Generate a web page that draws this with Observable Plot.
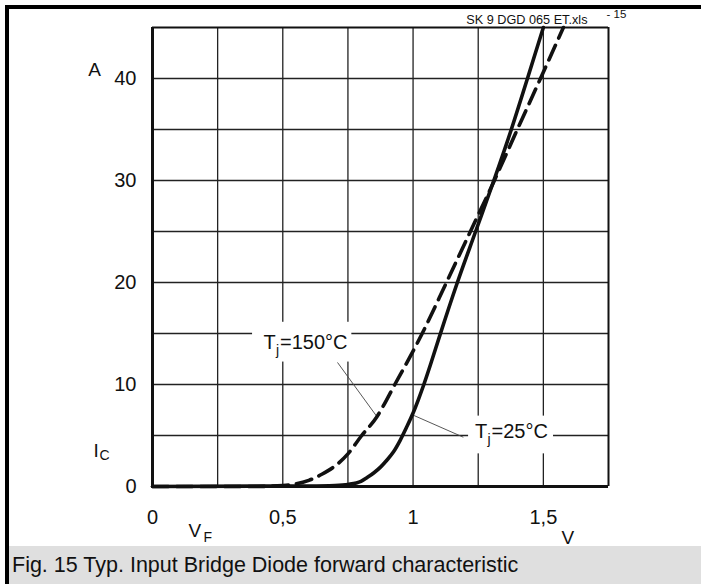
<!DOCTYPE html>
<html><head><meta charset="utf-8">
<script src="https://cdn.jsdelivr.net/npm/d3@7"></script>
<script src="https://cdn.jsdelivr.net/npm/@observablehq/plot@0.6"></script>
<style>
html,body{margin:0;padding:0;overflow:hidden;background:#fff;}
#wrap{position:relative;width:701px;height:584px;font-family:"Liberation Sans",Arial,Helvetica,sans-serif;}
#chart{position:absolute;left:0;top:0;}
#cap{position:absolute;left:9px;top:546px;width:692px;height:38px;line-height:38px;background:#dfdfdf;font-size:21.5px;color:#111;padding-left:3px;box-sizing:border-box;white-space:nowrap;}
.b{position:absolute;background:#000;}
#bl{left:5px;top:5px;width:4px;height:579px;}
#bt{left:5px;top:5px;width:696px;height:4px;}
</style></head>
<body><div id="wrap"><div id="chart"></div><div id="cap">Fig. 15 Typ. Input Bridge Diode forward characteristic</div><div class="b" id="bl"></div><div class="b" id="bt"></div></div>
<script>
// Forward voltage V_F (V) and current I_C (A)
const vSolid  = [0, 0.6, 0.7, 0.75, 0.8, 0.825, 0.85, 0.875, 0.9, 0.925, 0.95, 0.975, 1.0, 1.02, 1.04, 1.07, 1.1, 1.17, 1.24, 1.31, 1.377, 1.439, 1.5];
const iSolid  = [0, 0.05, 0.1, 0.2, 0.5, 0.9, 1.35, 1.9, 2.6, 3.4, 4.5, 5.8, 7.2, 8.5, 9.9, 12.2, 14.6, 20, 25, 30, 35, 40, 45];
const vDashed = [0, 0.4, 0.5, 0.55, 0.6, 0.65, 0.7, 0.75, 0.8, 0.86, 0.93, 1.035, 1.128, 1.22, 1.312, 1.40, 1.489, 1.577];
const iDashed = [0, 0, 0.1, 0.25, 0.6, 1.2, 2.0, 3.2, 4.9, 6.8, 10, 15, 20, 25, 30, 35, 40, 45];

const xGrid = [0.25, 0.5, 0.75, 1.0, 1.25, 1.5];
const yGrid = [5, 10, 15, 20, 25, 30, 35, 40];
const xTicks = [0, 0.5, 1, 1.5];
const xTickLabels = ["0", "0,5", "1", "1,5"];
const yTicks = [0, 10, 20, 30, 40];
const yTickLabels = ["0", "10", "20", "30", "40"];

// curve labels: T_j temperature, anchor (start of "T"), leader line ends, knock-out box
const curveLabels = [
  {temp: "150", x: 0.426, y: 14.07, lx1: 0.71, ly1: 12.16, lx2: 0.861, ly2: 6.86, bx1: 0.384, bx2: 0.765, by1: 12.2, by2: 16.1},
  {temp: "25",  x: 1.2375, y: 5.39, lx1: 1.193, ly1: 4.83, lx2: 1.0, ly2: 7.0, bx1: 1.213, bx2: 1.539, by1: 3.2, by2: 6.9}
];

const solid = vSolid.map((v, i) => ({v, i: iSolid[i]}));
const dashed = vDashed.map((v, i) => ({v, i: iDashed[i]}));
const xT = xTicks.map((v, k) => ({v, t: xTickLabels[k]}));
const yT = yTicks.map((v, k) => ({v, t: yTickLabels[k]}));

const FF = "Liberation Sans, Arial, Helvetica, sans-serif";
const ink = "#111";

const chart = Plot.plot({
  width: 701, height: 546,
  marginLeft: 152, marginRight: 93, marginTop: 27, marginBottom: 60,
  style: {background: "transparent", overflow: "visible", fontFamily: FF},
  x: {domain: [0, 1.75], axis: null},
  y: {domain: [0, 45], axis: null},
  marks: [
    Plot.ruleX(xGrid, {stroke: "#222", strokeWidth: 1.3}),
    Plot.ruleY(yGrid, {stroke: "#222", strokeWidth: 1.3}),
    Plot.rect(curveLabels, {x1: "bx1", x2: "bx2", y1: "by1", y2: "by2", fill: "white"}),
    Plot.link(curveLabels, {x1: "lx1", y1: "ly1", x2: "lx2", y2: "ly2", stroke: "#444", strokeWidth: 0.9}),
    Plot.line(dashed, {x: "v", y: "i", curve: "monotone-x", stroke: ink, strokeWidth: 3.6, strokeDasharray: "16,8"}),
    Plot.line(solid, {x: "v", y: "i", curve: "monotone-x", stroke: ink, strokeWidth: 3.6}),
    Plot.ruleY([45], {stroke: ink, strokeWidth: 2}),
    Plot.ruleX([1.75], {stroke: ink, strokeWidth: 2}),
    Plot.ruleX([0], {stroke: ink, strokeWidth: 3}),
    Plot.ruleY([0], {stroke: ink, strokeWidth: 3}),
    // tick labels
    Plot.text(xT, {x: "v", y: () => 0, text: "t", dy: 31, fontSize: 20, fill: ink, fontFamily: FF}),
    Plot.text(yT, {x: () => 0, y: "v", text: "t", dx: -16, textAnchor: "end", fontSize: 20, fill: ink, fontFamily: FF}),
    // axis titles and units
    Plot.text(["A"], {x: () => 0, y: () => 40, text: d => d, dx: -58, dy: -9, fontSize: 19, fill: ink, fontFamily: FF}),
    Plot.text(["I"], {x: () => 0, y: () => 0, text: d => d, dx: -59, dy: -36, textAnchor: "start", fontSize: 19, fill: ink, fontFamily: FF}),
    Plot.text(["C"], {x: () => 0, y: () => 0, text: d => d, dx: -53, dy: -31, textAnchor: "start", fontSize: 14, fill: ink, fontFamily: FF}),
    Plot.text(["V"], {x: () => 0, y: () => 0, text: d => d, dx: 36, dy: 44, textAnchor: "start", fontSize: 19, fill: ink, fontFamily: FF}),
    Plot.text(["F"], {x: () => 0, y: () => 0, text: d => d, dx: 51, dy: 51, textAnchor: "start", fontSize: 14, fill: ink, fontFamily: FF}),
    Plot.text(["V"], {x: () => 1.5, y: () => 0, text: d => d, dx: 24.5, dy: 51, fontSize: 19, fill: ink, fontFamily: FF}),
    Plot.text(["SK 9 DGD 065 ET.xls"], {x: () => 1.75, y: () => 45, text: d => d, dx: -21, dy: -8, textAnchor: "end", fontSize: 12.7, fill: ink, fontFamily: FF}),
    Plot.text(["- 15"], {x: () => 1.75, y: () => 45, text: d => d, dx: -2, dy: -13, textAnchor: "start", fontSize: 11.5, fill: ink, fontFamily: FF}),
    // curve labels T_j=...°C
    Plot.text(curveLabels, {x: "x", y: "y", text: () => "T", textAnchor: "start", fontSize: 20, fill: ink, fontFamily: FF}),
    Plot.text(curveLabels, {x: "x", y: "y", text: () => "j", dx: 12.5, dy: 8, textAnchor: "start", fontSize: 14, fill: ink, fontFamily: FF}),
    Plot.text(curveLabels, {x: "x", y: "y", text: d => "=" + d.temp + "\u00B0C", dx: 16.5, textAnchor: "start", fontSize: 20, fill: ink, fontFamily: FF})
  ]
});
document.getElementById("chart").appendChild(chart);
</script>
</body></html>
